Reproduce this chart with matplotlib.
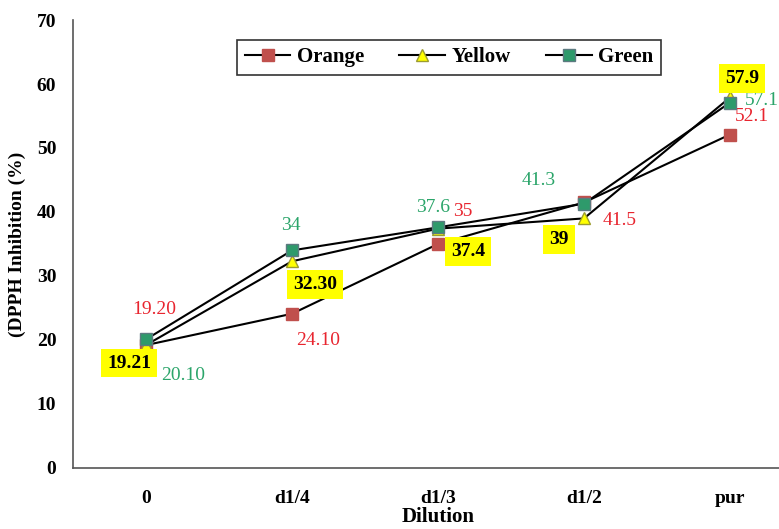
import matplotlib

matplotlib.use("Agg")
import matplotlib.pyplot as plt

categories = ["0", "d1/4", "d1/3", "d1/2", "pur"]
orange = [19.20, 24.10, 35.0, 41.5, 52.1]
yellow = [19.21, 32.30, 37.4, 39.0, 57.9]
green = [20.10, 34.0, 37.6, 41.3, 57.1]

orange_labels = ["19.20", "24.10", "35", "41.5", "52.1"]
yellow_labels = ["19.21", "32.30", "37.4", "39", "57.9"]
green_labels = ["20.10", "34", "37.6", "41.3", "57.1"]

# label offsets in pixels from each point
orange_offsets = [(8, 36), (26, -27), (25, 32), (36, -18), (22, 18)]
yellow_offsets = [(-17, -18), (23, -23), (30, -23), (-25, -21), (12, 19)]
green_offsets = [(37, -36), (-1, 25), (-5, 20), (-45, 23), (32, 2)]

plt.rcParams["font.family"] = ["Liberation Serif", "DejaVu Serif"]

W, H = 779, 529
fig = plt.figure(figsize=(W / 100, H / 100), dpi=100)
ax = fig.add_axes([73 / W, (H - 468) / H, 730 / W, 448 / H])

x = range(len(categories))
ax.plot(x, orange, color="black", lw=1.5, marker="s", ms=9,
        mfc="#C0504D", mec="#C0504D", label="Orange", zorder=3)
ax.plot(x, yellow, color="black", lw=1.5, marker="^", ms=8,
        mfc="#FFFF00", mec="#9C9C30", label="Yellow", zorder=3)
ax.plot(x, green, color="black", lw=1.5, marker="s", ms=9,
        mfc="#2E9A6B", mec="#5C7A80", label="Green", zorder=4)

for xi, v, t, off in zip(x, orange, orange_labels, orange_offsets):
    ax.annotate(t, (xi, v), xytext=off, textcoords="offset pixels",
                ha="center", va="center", color="#E8252F", fontsize=14)
for xi, v, t, off in zip(x, green, green_labels, green_offsets):
    ax.annotate(t, (xi, v), xytext=off, textcoords="offset pixels",
                ha="center", va="center", color="#2BA56A", fontsize=14)
for xi, v, t, off in zip(x, yellow, yellow_labels, yellow_offsets):
    ax.annotate(t, (xi, v), xytext=off, textcoords="offset pixels",
                ha="center", va="center", color="black", fontsize=14,
                fontweight="bold",
                bbox=dict(boxstyle="square,pad=0.3", fc="#FFFF00", ec="none"))

ax.set_xlim(-0.5, 4.5)
ax.set_ylim(0, 70)
ax.set_xticks(list(x))
ax.set_xticklabels(categories)
ax.set_yticks(range(0, 71, 10))
ax.tick_params(length=0, labelsize=14, pad=12)
for lab in ax.get_xticklabels() + ax.get_yticklabels():
    lab.set_fontweight("bold")
ax.tick_params(axis="x", pad=16)

for s in ["top", "right"]:
    ax.spines[s].set_visible(False)
for s in ["left", "bottom"]:
    ax.spines[s].set_color("#555555")
    ax.spines[s].set_linewidth(1.2)

ax.set_ylabel("(DPPH Inhibition (%)", fontsize=14, fontweight="bold", labelpad=8)
ax.set_xlabel("Dilution", fontsize=15, fontweight="bold", labelpad=0)

leg = ax.legend(loc="upper center", bbox_to_anchor=((449 - 73) / 730, (468 - 40) / 448),
                ncol=3, frameon=True, fancybox=False, edgecolor="black",
                prop={"size": 15, "weight": "bold"}, handlelength=2.2,
                columnspacing=1.7, handletextpad=0.3, borderpad=0.35,
                borderaxespad=0)
leg.get_frame().set_linewidth(1.2)

fig.savefig("out.png", dpi=100)
